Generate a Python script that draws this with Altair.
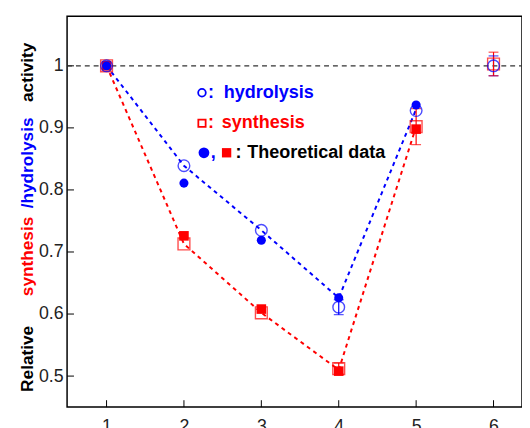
import altair as alt
import pandas as pd

# ---- data ----
x_vals = [1, 2, 3, 4, 5, 6]
hydro_meas = [1.0, 0.839, 0.735, 0.611, 0.928, 1.0]        # open blue circles
synth_meas = [1.0, 0.713, 0.602, 0.512, 0.902, 1.003]      # open red squares
hydro_theo = [1.0, 0.811, 0.719, 0.626, 0.937]             # filled blue circles
synth_theo = [1.0, 0.726, 0.608, 0.508, 0.898]             # filled red squares
hydro_line = [1.0, 0.839, 0.735, 0.626, 0.930]             # blue dashed line
synth_line = [1.0, 0.713, 0.602, 0.510, 0.902]             # red dashed line
err_x = [4, 6, 4, 5, 6]
err_lo = [0.599, 0.984, 0.503, 0.873, 0.984]
err_hi = [0.623, 1.016, 0.521, 0.931, 1.022]
err_series = ["hydrolysis", "hydrolysis", "synthesis", "synthesis", "synthesis"]
y_ticks = [0.5, 0.6, 0.7, 0.8, 0.9, 1.0]
x_ticks = [1, 2, 3, 4, 5, 6]

BLUE = "#0000ff"
RED = "#ff0000"
W, H = 462, 397
XDOM = [0.49, 6.368]
YDOM = [0.45, 1.08]
FONT = "Liberation Sans"

xs = alt.Scale(domain=XDOM, nice=False, zero=False)
ys = alt.Scale(domain=YDOM, nice=False, zero=False)
XAX = alt.Axis(values=x_ticks, format="d", ticks=False, domain=False, grid=False,
               labelFont=FONT, labelFontSize=18, labelColor="#222", labelPadding=11)
YAX = alt.Axis(values=y_ticks, format="~g", ticks=False, domain=False, grid=False,
               labelFont=FONT, labelFontSize=18, labelColor="#222", labelPadding=4)

meas = pd.DataFrame({"x": x_vals, "h": hydro_meas, "s": synth_meas})
theo = pd.DataFrame({"x": x_vals[:5], "h": hydro_theo, "s": synth_theo})
lines = pd.DataFrame({"x": x_vals[:5], "h": hydro_line, "s": synth_line})
errs = pd.DataFrame({"x": err_x, "lo": err_lo, "hi": err_hi, "series": err_series})
yt = pd.DataFrame({"y": y_ticks})
xt = pd.DataFrame({"x": x_ticks})
one = alt.Data(values=[{"a": 1}])


def X(f="x"):
    return alt.X(f"{f}:Q", scale=xs, axis=XAX, title=None)


def Y(f):
    return alt.Y(f"{f}:Q", scale=ys, axis=YAX, title=None)


ytick = alt.Chart(yt).mark_rule(color="black", strokeWidth=1).encode(
    x=alt.value(0), x2=alt.value(7), y=Y("y"))
xtick = alt.Chart(xt).mark_rule(color="black", strokeWidth=1).encode(
    x=X("x"), y=alt.value(H - 7), y2=alt.value(H))

ref = alt.Chart(one).mark_rule(color="#333", strokeDash=[5, 4], strokeWidth=1.2).encode(
    x=alt.value(0), x2=alt.value(W), y=Y("v")
).transform_calculate(v="1")

hline = alt.Chart(lines).mark_line(color=BLUE, strokeDash=[4, 4], strokeWidth=2).encode(x=X(), y=Y("h"))
sline = alt.Chart(lines).mark_line(color=RED, strokeDash=[4, 4], strokeWidth=2).encode(x=X(), y=Y("s"))

ecolor = alt.Color("series:N", scale=alt.Scale(domain=["hydrolysis", "synthesis"], range=[BLUE, RED]), legend=None)
ebar = alt.Chart(errs).mark_rule(strokeWidth=1.2).encode(x=X(), y=Y("lo"), y2="hi", color=ecolor)
ecap_lo = alt.Chart(errs).mark_tick(orient="horizontal", size=10, thickness=1.2).encode(x=X(), y=Y("lo"), color=ecolor)
ecap_hi = alt.Chart(errs).mark_tick(orient="horizontal", size=10, thickness=1.2).encode(x=X(), y=Y("hi"), color=ecolor)

sq_open = alt.Chart(meas).mark_point(shape="square", filled=False, color=RED, size=144, strokeWidth=1.4).encode(x=X(), y=Y("s"))
sq_fill = alt.Chart(theo).mark_point(shape="square", filled=True, color=RED, size=95, opacity=1).encode(x=X(), y=Y("s"))
ci_open = alt.Chart(meas).mark_point(shape="circle", filled=False, color=BLUE, size=140, strokeWidth=1.4).encode(x=X(), y=Y("h"))
ci_fill = alt.Chart(theo).mark_point(shape="circle", filled=True, color=BLUE, size=85, opacity=1).encode(x=X(), y=Y("h"))


# ---- in-plot legend ----
def sym(shape, filled, color, size, px, py):
    return alt.Chart(one).mark_point(shape=shape, filled=filled, color=color, size=size,
                                     strokeWidth=1.8, opacity=1).encode(x=alt.value(px), y=alt.value(py))


def txt(s, color, px, py, size=18.3, angle=0, align="left"):
    return alt.Chart(one).mark_text(text=s, font=FONT, fontSize=size, fontWeight="bold", color=color,
                                    align=align, baseline="middle", angle=angle).encode(
        x=alt.value(px), y=alt.value(py))


legend = [
    sym("circle", False, BLUE, 60, 137, 77.7),
    txt(":", BLUE, 143, 78),
    txt("hydrolysis", BLUE, 159, 78),
    sym("square", False, RED, 55, 137, 108.7),
    txt(":", RED, 143, 109),
    txt("synthesis", RED, 157, 109),
    sym("circle", True, BLUE, 120, 139, 138.7),
    txt(",", BLUE, 146, 139),
    sym("square", True, RED, 90, 162, 138.7),
    txt(":", "black", 171, 139),
    txt("Theoretical data", "black", 183, 139),
]

title_parts = [
    txt("Relative", "black", -40, 361 - 13, size=17.5, angle=270, align="center"),
    txt("synthesis", RED, -40, 257 - 13, size=17.5, angle=270, align="center"),
    txt("/hydrolysis", BLUE, -40, 162 - 13, size=17.5, angle=270, align="center"),
    txt("activity", "black", -40, 70 - 13, size=17.5, angle=270, align="center"),
]

chart = alt.layer(
    ytick, xtick, ref, hline, sline, ebar, ecap_lo, ecap_hi,
    sq_open, sq_fill, ci_open, ci_fill, *legend, *title_parts
).properties(
    width=W, height=H,
    background="white",
    autosize=alt.AutoSizeParams(type="none"),
    padding={"left": 60, "top": 5, "right": 0, "bottom": 25},
).configure_view(stroke="black", strokeWidth=1.5)

chart.save("out.html", embed_options={"renderer": "svg", "actions": False})
